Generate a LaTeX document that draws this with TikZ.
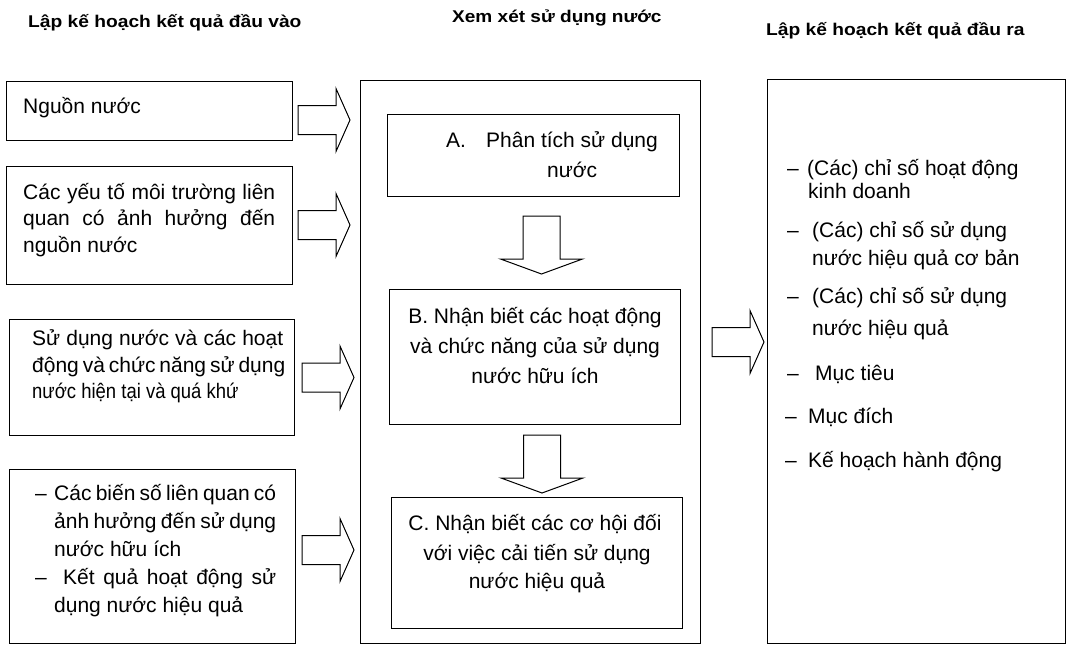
\documentclass[tikz,border=0pt]{standalone}
\usepackage{fontspec}
\setmainfont{Liberation Sans}
\begin{document}
\begin{tikzpicture}[x=1pt,y=-1pt,
  box/.style={draw, line width=1pt, inner sep=0pt},
  tl/.style={font=\fontsize{21}{26}\selectfont, inner sep=0pt, anchor=base west},
  tc/.style={font=\fontsize{21}{26}\selectfont, inner sep=0pt, anchor=base},
  ttl/.style={font=\fontsize{17}{20}\selectfont\bfseries, inner sep=0pt, anchor=base west},
  barrow/.style={draw, line width=1pt, fill=white},
  rarr/.pic={\draw[barrow] (0,-14.5) -- (38,-14.5) -- (38,-31.5) -- (52,0) -- (38,31.5) -- (38,14.5) -- (0,14.5) -- cycle;},
  darr/.pic={\draw[barrow] (-18.5,0) -- (-18.5,43) -- (-41,43) -- (0,58) -- (41,43) -- (18.5,43) -- (18.5,0) -- cycle;}
]
\useasboundingbox (0,0) rectangle (1069,648);
% titles
\node[ttl] (t1) at (28,27) {\scalebox{1.13}[1]{Lập kế hoạch kết quả đầu vào}};
\node[ttl] (t2) at (452,22) {\scalebox{1.12}[1]{Xem xét sử dụng nước}};
\node[ttl] (t3) at (766,35) {\scalebox{1.13}[1]{Lập kế hoạch kết quả đầu ra}};
% input boxes
\node[box, minimum width=286pt, minimum height=59pt] (in1) at (149,110.5) {};
\node[box, minimum width=286pt, minimum height=118pt] (in2) at (149,225) {};
\node[box, minimum width=285pt, minimum height=116pt] (in3) at (151.5,377) {};
\node[box, minimum width=286pt, minimum height=174pt] (in4) at (152,556) {};
% middle
\node[box, minimum width=340pt, minimum height=563pt] (mid) at (530,361.5) {};
\node[box, minimum width=292pt, minimum height=82pt] (A) at (533,155) {};
\node[box, minimum width=291pt, minimum height=135pt] (B) at (534.5,356.5) {};
\node[box, minimum width=291pt, minimum height=131pt] (C) at (536.5,562.5) {};
% output
\node[box, minimum width=298pt, minimum height=564pt] (out) at (916,361) {};
% block arrows
\pic at (298,120) {rarr};
\pic at (298,225) {rarr};
\pic at (302,377.5) {rarr};
\pic at (302,550) {rarr};
\pic at (712,342) {rarr};
\pic at (541.5,216) {darr};
\pic at (542,435) {darr};
% input texts
\node[tl] (i1a) at (23,113) {Nguồn nước};
\node[tl] (i2a) at (23,199) {\makebox[252pt][s]{Các yếu tố môi trường liên}};
\node[tl] (i2b) at (23,225.5) {\makebox[252pt][s]{quan có ảnh hưởng đến}};
\node[tl] (i2c) at (23,252) {nguồn nước};
\node[tl] (i3a) at (32,345) {\makebox[251pt][s]{Sử dụng nước và các hoạt}};
\node[tl] (i3b) at (32,372) {\makebox[251pt][s]{động và chức năng sử dụng}};
\node[tl] (i3c) at (32,398) {\scalebox{0.88}[1]{nước hiện tại và quá khứ}};
\node[tl] (i4d1) at (35,500) {–};
\node[tl] (i4a) at (54,500) {\makebox[222pt][s]{Các biến số liên quan có}};
\node[tl] (i4b) at (54,528) {\makebox[222pt][s]{ảnh hưởng đến sử dụng}};
\node[tl] (i4c) at (54,556) {nước hữu ích};
\node[tl] (i4d2) at (35,584) {–};
\node[tl] (i4d) at (63,584) {\makebox[213pt][s]{Kết quả hoạt động sử}};
\node[tl] (i4e) at (54,612) {dụng nước hiệu quả};
% middle texts
\node[tl] (Aa) at (446,147) {A.};
\node[tl] (Ab) at (486,147) {Phân tích sử dụng};
\node[tl] (Ac) at (547,177) {nước};
\node[tc] (Ba) at (535,323) {B. Nhận biết các hoạt động};
\node[tc] (Bb) at (535,353) {và chức năng của sử dụng};
\node[tc] (Bc) at (535,383) {nước hữu ích};
\node[tc] (Ca) at (535,530) {C. Nhận biết các cơ hội đối};
\node[tc] (Cb) at (537,560) {với việc cải tiến sử dụng};
\node[tc] (Cc) at (537,588) {nước hiệu quả};
% output texts
\node[tl] (od1) at (787,175) {–};
\node[tl] (o1a) at (807,175) {(Các) chỉ số hoạt động};
\node[tl] (o1b) at (808,198) {kinh doanh};
\node[tl] (od2) at (787,237) {–};
\node[tl] (o2a) at (812,237) {(Các) chỉ số sử dụng};
\node[tl] (o2b) at (812,265) {nước hiệu quả cơ bản};
\node[tl] (od3) at (787,303) {–};
\node[tl] (o3a) at (812,303) {(Các) chỉ số sử dụng};
\node[tl] (o3b) at (812,335) {nước hiệu quả};
\node[tl] (od4) at (787,380) {–};
\node[tl] (o4) at (815,380) {Mục tiêu};
\node[tl] (od5) at (785,423) {–};
\node[tl] (o5) at (808,423) {Mục đích};
\node[tl] (od6) at (785,467) {–};
\node[tl] (o6) at (808,467) {Kế hoạch hành động};
\end{tikzpicture}
\end{document}
